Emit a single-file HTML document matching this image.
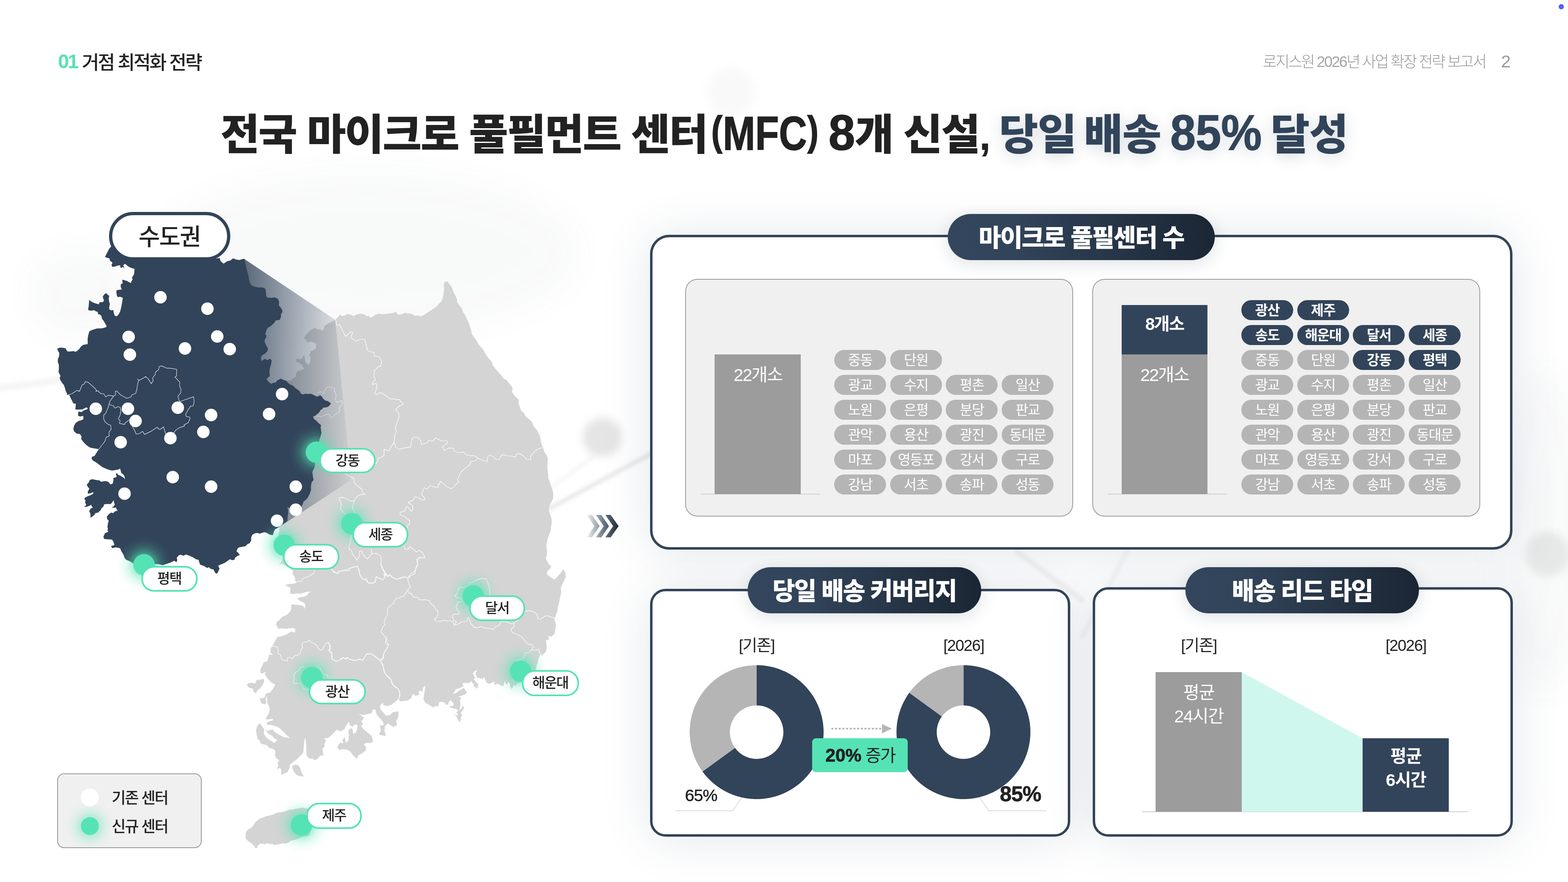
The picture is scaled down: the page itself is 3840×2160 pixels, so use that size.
<!DOCTYPE html>
<html lang="ko">
<head>
<meta charset="utf-8">
<title>거점 최적화 전략</title>
<style>
*{box-sizing:border-box;margin:0;padding:0}
html,body{width:3840px;height:2160px;overflow:hidden;background:#fff}
body{font-family:"Liberation Sans","Noto Sans CJK KR",sans-serif;color:#222;position:relative}
.abs{position:absolute}
.t{position:absolute;white-space:nowrap;line-height:1}
.c{transform:translate(-50%,-50%)}
#bg{position:absolute;left:0;top:0;width:3840px;height:2160px}
#hl{left:142px;top:128px;font-size:46px;font-weight:500;letter-spacing:-3.3px;color:#222}
#hl b{color:#55E3B5;font-weight:700;margin-right:11px;letter-spacing:-3.5px;font-size:49px;position:relative;top:-2px}
#hr{right:202px;top:133px;font-size:37.5px;font-weight:300;color:#9a9a9a;letter-spacing:-3.3px}
#hp{left:3676px;top:129px;font-size:43px;font-weight:300;color:#9a9a9a}
#dot{left:3817px;top:10px;width:13px;height:13px;border-radius:50%;background:#5560f0}
#title{left:540px;top:279px;font-size:104px;font-weight:900;color:#222;letter-spacing:-2.9px;transform-origin:0 0}
#title i{font-style:normal;display:inline-block;letter-spacing:0;line-height:0;height:0}
#title i b{display:inline-block;transform-origin:0 100%;font-weight:700;-webkit-text-stroke:1.6px currentColor;white-space:nowrap;line-height:0}
#title u{text-decoration:none;font-size:.87em;position:relative;top:-.12em;margin:0 .01em}
#title span{letter-spacing:-1.2px;word-spacing:-9px;margin-left:-3px;color:#32445A;text-shadow:0 8px 36px rgba(50,68,90,.2)}
.panel{position:absolute;border:6px solid #32445A;border-radius:38px;background:#fff;box-shadow:0 4px 120px rgba(40,60,90,.13)}
.ptitle{position:absolute;height:113px;border-radius:57px;background:linear-gradient(90deg,#33465d 0%,#32445A 25%,#1b2634 100%);color:#fff;font-weight:900;font-size:60px;text-align:center;line-height:119px;letter-spacing:-2.5px;white-space:nowrap;box-shadow:0 8px 40px rgba(40,60,90,.16)}
.inner{position:absolute;border:2px solid #9c9c9c;border-radius:30px;background:#f0f0f0}
.chip{position:absolute;width:127px;height:49px;border-radius:25px;background:#b5b5b5;color:#fff;font-size:34px;font-weight:400;text-align:center;line-height:51px;letter-spacing:-1.6px;white-space:nowrap}
.chip.d{background:#32445A;font-weight:700}
.bar{position:absolute;color:#fff;text-align:center;white-space:nowrap}
.base{position:absolute;height:2px;background:#cfcfcf}
.lab{font-size:39px;font-weight:400;letter-spacing:-1.5px;color:#222}
.pill{position:absolute;height:61px;border:4px solid #55E3B5;border-radius:31px;background:#fff;font-size:34px;font-weight:500;text-align:center;line-height:54px;letter-spacing:-2px;color:#222;white-space:nowrap}
.gd{position:absolute;width:52px;height:52px;border-radius:50%;background:#55E3B5;box-shadow:0 0 40px 14px rgba(85,227,181,.45)}
.wd{position:absolute;width:30px;height:30px;border-radius:50%;background:#fff;margin:-15px 0 0 -15px}
</style>
</head>
<body>
<svg id="bg" viewBox="0 0 3840 2160" width="3840" height="2160">
<defs><filter id="b1" x="-50%" y="-50%" width="200%" height="200%"><feGaussianBlur stdDeviation="10"/></filter><filter id="b2" x="-50%" y="-50%" width="200%" height="200%"><feGaussianBlur stdDeviation="4"/></filter><filter id="b3" x="-50%" y="-50%" width="200%" height="200%"><feGaussianBlur stdDeviation="40"/></filter></defs>
<g filter="url(#b3)" fill="#5a6a7a" opacity=".035">
<ellipse cx="900" cy="620" rx="520" ry="200"/><ellipse cx="3780" cy="1300" rx="120" ry="400"/><ellipse cx="200" cy="720" rx="130" ry="110"/>
</g>
<g filter="url(#b1)" fill="#000">
<circle cx="1475" cy="1071" r="48" opacity=".1"/>
<circle cx="3790" cy="1357" r="55" opacity=".07"/>
<circle cx="1790" cy="225" r="60" opacity=".025"/>
</g>
<g filter="url(#b2)" stroke="#000" fill="none" stroke-linecap="round">
<path d="M1346,1245 L1600,1108" stroke-width="11" opacity=".085"/>
<path d="M1352,1192 L1452,1120" stroke-width="9" opacity=".035"/>
<path d="M0,950 L190,926" stroke-width="16" opacity=".04"/>
<path d="M2490,1350 L2650,1470" stroke-width="12" opacity=".05"/>
<path d="M2760,1350 L2650,1560" stroke-width="10" opacity=".04"/>
</g>
</svg>

<div class="t" id="hl"><b>01</b>거점 최적화 전략</div>
<div class="t" id="hr">로지스원 <span style="color:#a6a6a6;letter-spacing:-2.6px">2026</span>년 사업 확장 전략 보고서</div>
<div class="t" id="hp">2</div>
<div class="abs" id="dot"></div>
<div class="t" id="title">전국 마이크로 풀필먼트 센터<i id="mfc" style="width:262px;margin-left:10px"><b style="transform:scaleX(.82);font-size:116px"><u>(</u>MFC<u>)</u></b></i> <i id="n8" style="width:64px"><b style="transform:scaleX(.96);font-size:122px">8</b></i>개 신설, <span>당일 배송 <i id="n85" style="width:227px;margin-left:4px"><b style="transform:scaleX(.918);font-size:122px">85%</b></i> 달성</span></div>

<svg class="abs" style="left:0;top:0" width="1560" height="2160" viewBox="0 0 1560 2160">
<defs>
<linearGradient id="cone" gradientUnits="userSpaceOnUse" x1="598" y1="0" x2="862" y2="0"><stop offset="0" stop-color="#32445A" stop-opacity=".8"/><stop offset=".5" stop-color="#32445A" stop-opacity=".42"/><stop offset="1" stop-color="#32445A" stop-opacity=".04"/></linearGradient>
<radialGradient id="glow"><stop offset="0" stop-color="#55E3B5" stop-opacity=".6"/><stop offset=".4" stop-color="#55E3B5" stop-opacity=".5"/><stop offset=".62" stop-color="#55E3B5" stop-opacity=".2"/><stop offset=".82" stop-color="#55E3B5" stop-opacity=".06"/><stop offset="1" stop-color="#55E3B5" stop-opacity="0"/></radialGradient>
</defs>
<g fill="#d4d4d4"><path d="M821.9,782.2 829.8,774.3 831.8,769.8 837.3,773.8 843.5,773.0 850.9,768.8 859.6,771.3 866.6,774.3 872.0,770.6 883.2,768.1 890.7,769.3 898.1,774.3 902.4,773.0 905.6,777.3 911.8,776.8 919.3,770.6 928.0,768.1 934.2,769.3 942.9,769.3 951.6,768.1 961.5,766.8 970.2,763.9 973.9,770.6 983.9,769.8 991.3,766.3 1001.2,767.3 1011.2,769.8 1014.9,773.0 1023.6,773.0 1032.3,774.3 1038.5,771.3 1048.4,764.3 1058.4,758.1 1067.1,751.9 1074.5,744.5 1080.7,738.3 1084.5,729.6 1086.2,719.6 1087.7,707.2 1087.0,694.8 1089.4,690.3 1095.7,689.3 1100.6,696.0 1106.8,703.5 1109.3,712.2 1115.5,724.6 1119.3,733.3 1119.3,739.5 1124.2,747.0 1130.4,754.4 1134.2,764.3 1139.1,771.8 1144.1,783.0 1149.1,792.9 1151.6,801.6 1154.0,810.3 1155.3,817.8 1161.5,826.5 1167.7,835.2 1171.4,842.6 1177.6,850.1 1182.6,855.0 1187.6,863.7 1193.8,873.7 1200.0,881.1 1205.0,887.3 1206.2,893.5 1213.7,903.5 1222.4,913.4 1231.1,923.4 1233.5,927.8 1241.0,930.8 1247.2,939.5 1254.7,948.2 1255.2,954.4 1253.4,959.4 1259.6,968.1 1269.6,978.0 1270.8,983.0 1269.6,988.0 1273.3,996.6 1275.8,1005.3 1283.2,1011.6 1287.5,1020.0 1296.9,1027.5 1303.1,1033.7 1306.8,1043.6 1314.3,1052.3 1318.0,1059.8 1323.0,1068.4 1324.2,1079.6 1326.7,1089.6 1330.4,1097.0 1332.9,1107.0 1339.1,1115.7 1341.6,1121.9 1341.1,1134.3 1340.4,1144.2 1342.1,1159.1 1342.9,1171.6 1346.6,1181.5 1350.3,1191.4 1353.5,1201.4 1355.3,1211.3 1354.0,1222.5 1349.1,1231.2 1345.3,1239.9 1344.1,1251.1 1346.6,1258.5 1350.3,1268.4 1351.6,1278.4 1349.6,1288.3 1349.1,1298.3 1345.3,1308.2 1341.6,1318.1 1339.1,1328.1 1337.9,1338.0 1339.6,1348.0 1339.1,1360.4 1336.6,1367.8 1340.4,1375.3 1342.9,1380.0 1350.3,1387.5 1346.6,1393.7 1340.4,1398.6 1338.6,1404.8 1342.9,1409.8 1350.3,1414.8 1357.8,1419.3 1365.2,1412.3 1372.7,1403.6 1380.1,1393.7 1383.9,1402.4 1385.8,1412.3 1381.4,1422.2 1376.4,1432.2 1373.4,1439.6 1374.4,1452.0 1371.4,1464.5 1368.9,1476.9 1366.5,1486.8 1364.0,1499.3 1360.2,1509.2 1357.8,1516.6 1361.0,1529.1 1360.2,1541.5 1357.8,1552.7 1350.3,1558.9 1341.6,1557.6 1345.3,1563.9 1340.4,1568.8 1336.6,1566.3 1337.9,1576.3 1339.1,1586.2 1336.6,1596.1 1331.7,1601.1 1326.7,1606.1 1323.0,1603.6 1319.3,1612.3 1316.8,1622.2 1314.3,1630.9 1313.9,1632.6 1311.6,1640.4 1292.9,1662.1 1268.1,1673.0 1263.4,1677.6 1261.9,1682.3 1259.5,1676.1 1255.7,1683.9 1251.8,1687.0 1249.4,1680.7 1248.7,1674.5 1244.0,1669.1 1242.5,1674.5 1239.3,1676.1 1236.2,1666.8 1234.7,1673.0 1232.4,1680.7 1224.6,1677.6 1219.9,1674.5 1213.7,1676.1 1209.8,1677.6 1211.4,1671.4 1208.3,1669.1 1204.4,1672.2 1198.2,1674.5 1192.0,1672.2 1188.9,1666.8 1186.6,1659.8 1183.4,1659.0 1182.7,1663.7 1178.0,1662.1 1172.6,1659.8 1168.7,1660.6 1167.1,1655.9 1164.8,1651.2 1165.6,1645.8 1170.2,1641.6 1165.6,1641.9 1160.9,1645.0 1158.1,1649.7 1160.9,1655.1 1164.0,1660.6 1160.2,1663.7 1163.3,1666.8 1166.4,1671.4 1171.8,1676.1 1168.7,1680.7 1174.1,1681.5 1167.1,1684.6 1161.7,1686.2 1165.6,1682.3 1159.4,1680.7 1160.9,1676.1 1156.3,1671.4 1153.2,1666.8 1150.8,1672.2 1143.9,1673.0 1137.6,1672.2 1131.4,1674.5 1136.1,1679.2 1128.3,1683.9 1122.1,1686.2 1115.9,1688.5 1112.8,1694.7 1109.7,1699.4 1117.5,1697.0 1123.7,1691.6 1129.9,1688.5 1136.1,1684.6 1139.2,1690.1 1143.9,1697.0 1137.6,1700.9 1129.9,1704.0 1122.1,1707.1 1129.9,1708.7 1126.8,1714.9 1127.5,1724.2 1126.8,1733.5 1125.2,1739.8 1131.4,1733.5 1133.0,1727.3 1136.9,1733.5 1133.0,1739.8 1128.3,1746.0 1131.4,1750.6 1128.3,1759.9 1126.8,1767.7 1123.7,1766.9 1119.0,1756.8 1114.3,1750.6 1108.1,1748.3 1112.8,1749.1 1119.0,1752.2 1122.1,1749.1 1117.5,1745.2 1122.1,1739.8 1117.5,1736.6 1111.2,1735.1 1105.0,1733.5 1100.4,1731.2 1103.5,1728.9 1110.5,1728.9 1111.2,1722.7 1106.6,1718.0 1103.5,1714.1 1098.8,1719.6 1098.0,1724.2 1092.6,1727.3 1089.5,1721.1 1083.3,1718.8 1075.5,1719.6 1074.0,1725.8 1074.8,1730.4 1067.8,1728.9 1063.1,1730.4 1060.0,1733.5 1059.5,1731.4 1052.0,1726.5 1042.1,1721.5 1037.1,1712.8 1038.4,1701.6 1042.1,1679.3 1035.9,1684.2 1034.7,1694.2 1028.4,1690.4 1024.7,1695.4 1027.2,1701.6 1017.3,1704.1 1011.1,1699.1 1007.3,1709.1 999.9,1715.3 989.9,1716.5 980.0,1717.8 976.3,1711.6 967.6,1719.0 957.6,1726.5 947.7,1728.9 939.0,1726.5 937.8,1720.2 930.3,1728.9 932.8,1738.9 940.2,1746.3 945.2,1752.5 955.2,1751.3 962.6,1743.9 976.3,1742.6 975.0,1756.3 970.1,1766.2 972.5,1776.1 963.9,1779.9 956.4,1776.1 950.2,1771.2 942.7,1778.6 941.5,1788.6 945.2,1802.2 935.3,1801.0 927.8,1798.5 932.8,1788.6 930.3,1776.1 940.2,1776.1 937.8,1767.5 930.3,1758.8 922.9,1751.3 919.1,1737.6 912.9,1737.6 910.4,1746.3 900.5,1748.8 890.6,1751.3 878.1,1748.8 890.6,1756.3 888.1,1763.7 884.3,1766.2 889.3,1772.4 884.3,1778.6 890.6,1786.1 898.0,1792.3 905.5,1798.5 910.4,1802.2 911.7,1808.4 914.2,1814.7 908.0,1819.6 895.5,1819.6 890.6,1823.4 896.8,1829.6 895.5,1838.3 885.6,1845.7 878.1,1849.4 874.4,1858.1 869.4,1854.4 863.2,1848.2 858.3,1840.7 849.6,1835.8 839.6,1834.5 830.9,1837.0 826.0,1829.6 829.7,1823.4 833.4,1818.4 840.9,1820.9 838.4,1813.4 843.4,1804.7 845.8,1810.9 847.1,1819.6 853.3,1813.4 854.5,1798.5 853.3,1788.6 858.3,1783.6 863.2,1784.8 864.5,1796.0 870.7,1796.0 874.4,1786.1 875.7,1776.1 869.4,1773.7 863.2,1779.9 857.0,1776.1 854.5,1767.5 848.3,1776.1 843.4,1786.1 833.4,1791.1 824.7,1787.3 818.5,1793.5 811.1,1801.0 803.6,1807.2 793.7,1808.4 798.6,1813.4 793.7,1823.4 796.1,1827.1 789.9,1833.3 791.2,1843.2 792.4,1849.4 783.7,1850.7 778.8,1856.9 771.3,1861.9 765.1,1856.9 757.6,1858.1 751.4,1850.7 750.2,1840.7 750.2,1828.3 748.9,1815.9 747.7,1806.0 745.2,1813.4 744.0,1828.3 742.7,1843.2 737.8,1848.2 729.1,1858.1 719.1,1865.6 710.4,1871.8 709.2,1880.5 704.2,1890.4 696.8,1894.2 688.1,1897.9 689.3,1888.0 686.8,1880.5 678.1,1883.0 681.9,1875.5 679.4,1869.3 684.3,1861.9 678.1,1858.1 673.2,1850.7 674.4,1838.3 667.0,1833.3 659.5,1832.0 654.5,1825.8 648.3,1823.4 638.4,1820.9 635.9,1813.4 630.9,1809.7 628.4,1798.5 627.2,1789.8 629.7,1778.6 635.9,1770.7 642.1,1778.6 647.1,1786.1 645.8,1796.0 652.0,1806.0 662.0,1813.4 671.9,1819.6 679.4,1812.2 671.9,1808.4 665.7,1801.0 659.5,1798.5 649.6,1788.6 657.0,1789.8 667.0,1786.1 671.9,1792.3 681.9,1798.5 696.8,1806.0 710.4,1807.2 701.7,1799.8 694.3,1792.3 686.8,1784.8 679.4,1779.9 667.0,1776.1 654.5,1774.9 653.3,1768.7 669.4,1763.7 667.0,1760.0 654.5,1762.5 650.8,1758.8 657.0,1750.1 660.7,1738.9 659.5,1731.4 654.5,1721.5 654.5,1711.6 652.0,1702.9 650.8,1711.6 652.0,1721.5 647.1,1725.2 639.6,1721.5 635.9,1710.3 647.1,1709.1 650.8,1699.1 662.0,1695.4 667.0,1689.2 674.4,1676.8 667.0,1673.0 659.5,1666.8 654.5,1660.6 648.3,1650.7 652.0,1644.5 644.6,1648.2 638.4,1649.4 637.6,1639.5 640.9,1633.3 645.8,1622.1 654.5,1619.6 659.5,1602.2 669.4,1604.7 662.0,1597.3 663.2,1587.3 667.0,1582.4 671.9,1572.4 679.4,1560.0 689.9,1558.3 699.3,1554.6 706.7,1550.9 713.2,1546.2 717.9,1548.1 722.5,1549.0 723.5,1541.6 718.8,1537.8 710.4,1538.8 701.1,1539.7 689.9,1538.8 682.5,1539.7 678.8,1534.1 676.0,1529.4 677.8,1522.9 684.3,1518.3 689.9,1511.7 697.4,1508.0 704.8,1504.3 710.4,1497.8 713.8,1491.2 713.2,1483.8 715.1,1480.1 725.3,1481.0 734.7,1481.9 742.1,1483.8 746.8,1491.2 747.7,1480.1 744.0,1476.3 738.4,1473.5 730.9,1468.9 728.1,1465.2 734.7,1462.4 744.0,1461.4 751.4,1458.6 754.2,1454.0 760.7,1448.8 751.4,1449.3 744.0,1452.1 734.7,1454.0 725.3,1453.0 719.8,1454.9 711.4,1454.0 710.4,1446.5 711.4,1439.1 704.8,1436.3 698.3,1432.5 708.6,1430.1 717.9,1429.4 727.2,1427.0 722.5,1421.4 722.5,1414.8 718.8,1409.3 716.0,1401.8 717.9,1398.1 714.2,1394.3 708.6,1390.6 701.1,1386.9 695.5,1382.2 690.9,1379.4 686.2,1381.3 684.3,1383.2 685.3,1379.4 689.9,1376.6 691.8,1370.1 692.7,1364.5 684.3,1327.3 681.6,1310.5 684.3,1301.2 683.4,1292.8 690.0,1250.0 700.0,1000.0 702.7,932.5 712.9,931.6 718.5,926.0 724.1,923.2 725.0,913.9 729.7,908.3 737.1,906.4 744.6,903.6 739.0,893.4 731.6,887.8 725.0,885.9 726.0,877.5 735.3,880.3 740.9,876.6 743.7,870.1 746.5,874.7 747.4,885.9 751.1,889.6 755.8,893.4 759.5,885.9 761.4,874.7 756.7,870.1 759.5,866.3 761.4,859.8 767.9,858.0 773.5,852.4 774.4,842.1 763.2,836.5 752.0,838.4 748.3,830.0 742.7,830.0 750.2,819.0 759.5,809.7 770.7,802.2 778.1,806.9 785.6,806.0 787.5,810.6 793.0,806.0 794.9,798.5 802.4,792.9 811.7,788.3 822.9,782.7Z"/><path d="M606.1,1674.3 614.8,1671.8 624.7,1674.3 628.4,1665.6 638.4,1664.3 645.8,1661.9 647.1,1669.3 642.1,1679.3 635.9,1686.7 629.7,1691.7 627.2,1697.9 621.0,1694.2 619.8,1686.7 609.8,1684.2 604.8,1678.0Z"/><path d="M715.4,1876.8 721.6,1872.5 729.1,1873.5 735.3,1880.5 737.8,1890.4 744.0,1901.6 734.0,1900.4 726.6,1897.9 720.4,1890.4 716.6,1883.0Z"/><path d="M601.9,2038.7 606.6,2032.5 614.3,2027.8 619.8,2022.4 623.7,2017.0 625.2,2012.3 629.9,2010.0 636.1,2004.5 643.9,2002.2 651.6,1999.1 660.9,1996.8 668.7,1995.2 676.5,1990.6 684.2,1989.8 693.5,1988.2 701.3,1985.9 710.6,1982.0 716.8,1982.8 724.6,1980.5 730.8,1979.4 740.1,1978.1 749.4,1979.4 755.7,1980.5 761.9,1992.1 763.4,2023.2 760.3,2035.6 757.2,2044.9 752.5,2048.0 743.2,2049.3 737.0,2051.1 727.7,2055.0 719.9,2057.3 712.2,2058.9 706.0,2063.5 699.8,2065.9 692.0,2065.1 684.2,2067.4 678.0,2068.2 671.8,2069.8 667.1,2066.6 660.9,2067.4 656.3,2065.1 648.5,2067.4 640.7,2065.9 634.5,2067.4 631.4,2071.3 629.9,2076.0 625.2,2077.2 622.1,2071.3 617.5,2066.6 612.8,2063.5 606.6,2058.9 602.7,2054.2 601.1,2051.1 602.2,2044.9Z"/></g>
<g fill="none" stroke="#fff" stroke-width="1.4" stroke-linejoin="round" opacity=".95">
<path d="M822.4,783.0 823.6,796.6 832.3,795.4 836.0,802.9 838.5,810.3 847.2,824.0 858.4,812.8 864.1,814.0 860.1,824.0 862.1,830.2 867.1,831.4 871.6,836.4 880.7,830.9 893.2,830.9 896.9,846.3 900.6,858.8 909.3,861.7 915.5,863.2 917.3,872.4 928.0,873.2 931.7,878.6 934.7,887.3 931.7,897.3 925.5,898.5 917.3,907.2 915.5,920.9 919.3,929.6 911.8,937.0 911.8,942.0 920.5,938.8 923.0,942.0 921.2,955.7 918.0,961.9 921.7,966.8 931.7,960.6 939.1,965.1 955.3,976.8 964.0,976.8 973.9,979.3 978.4,978.0 981.4,984.2 987.6,988.0 985.1,991.7 977.6,994.2 968.9,1002.9 976.4,1011.6 977.6,1020.0"/>
<path d="M977.6,1020.0 971.4,1037.4 968.4,1044.8 970.2,1057.3 966.5,1067.2 965.2,1083.4 959.0,1092.0 952.8,1104.5 940.4,1100.0 940.4,1115.7 934.2,1119.4 926.7,1123.1 924.2,1130.6 919.3,1136.8"/>
<path d="M965.2,1083.4 968.9,1094.5 976.4,1100.7 988.8,1097.5 1006.2,1094.5 1007.5,1078.4 1011.2,1072.2 1018.6,1069.7 1026.1,1073.4 1031.1,1080.9 1032.3,1088.3 1046.0,1084.6 1050.9,1077.6 1059.6,1080.9 1067.1,1072.2 1073.3,1075.9 1080.7,1079.6 1094.4,1079.6 1095.7,1084.6 1083.2,1094.5 1088.2,1103.2 1098.1,1097.5 1109.3,1097.5 1114.3,1105.7 1123.0,1108.9 1135.4,1107.0 1140.4,1113.2 1150.3,1115.7 1162.7,1116.4 1170.2,1121.9 1182.6,1127.3 1192.5,1130.6 1193.8,1120.6 1198.8,1114.4 1207.5,1118.1 1213.7,1124.3 1222.4,1125.6 1228.6,1114.4 1234.8,1113.2 1239.8,1116.4 1252.2,1116.9 1262.1,1119.4 1264.6,1111.9 1272.0,1110.7 1282.0,1116.9 1290.7,1125.6 1300.6,1125.6 1299.4,1116.9 1309.3,1105.7 1319.3,1098.3 1329.2,1096.5"/>
<path d="M1170.2,1121.9 1165.2,1128.1 1152.8,1130.6 1151.6,1136.8 1142.9,1144.2 1129.2,1155.4 1123.0,1169.1 1120.5,1175.3 1124.2,1179.0 1106.1,1196.9 1095.7,1192.7 1078.3,1178.5 1076.3,1186.0 1072.8,1185.2 1073.3,1193.4 1063.4,1192.7 1054.7,1189.4 1044.7,1197.6 1038.5,1193.9 1032.3,1211.3 1040.5,1220.0 1039.8,1224.2 1032.3,1223.7 1024.8,1218.8 1016.1,1216.3 1011.2,1225.0 998.8,1231.2 1009.9,1237.4 1011.2,1246.1 1007.5,1252.3 1003.7,1248.6 997.5,1239.9 993.8,1244.8 991.3,1252.3 983.9,1253.0 978.9,1257.3 982.6,1262.2 991.3,1264.7 997.5,1270.9 1003.7,1275.9 1002.5,1283.4 997.5,1287.1 998.8,1293.3"/>
<path d="M1038.5,1366.6 1031.1,1365.3 1023.6,1370.3 1020.6,1376.5 1023.6,1380.0"/>
<path d="M844.7,1160.4 859.6,1167.8 865.8,1171.6 867.1,1181.5 874.5,1188.9 885.7,1197.6 888.2,1206.3 893.2,1210.8 882.0,1211.3 873.3,1216.3 867.1,1226.2 858.4,1227.5 849.7,1222.5 839.8,1217.5 832.3,1218.8 829.8,1223.7 834.8,1229.9 836.0,1237.4 833.5,1244.8 839.8,1253.5 847.2,1259.8"/>
<path d="M867.1,1226.2 865.8,1236.1 862.1,1241.1 867.1,1251.1 868.3,1258.5"/>
<path d="M811.2,1394.9 824.8,1403.6 832.3,1398.6 844.7,1397.4 853.4,1393.7 864.6,1388.7 874.5,1387.0 879.5,1394.9 880.7,1407.3 887.0,1417.3 894.4,1419.8 901.9,1427.2 911.8,1427.7 919.3,1426.0 920.5,1413.5 926.7,1414.8 937.9,1419.8 942.9,1413.5 940.4,1404.8 946.6,1407.3 950.3,1412.3 955.3,1407.3 959.0,1413.5 971.4,1418.5 981.4,1414.8 991.3,1412.3 998.8,1416.0 1006.2,1404.8 1016.1,1398.6 1018.6,1389.9 1023.6,1380.0"/>
<path d="M931.7,1380.0 935.4,1389.9 941.6,1402.4 950.3,1412.3"/>
<path d="M998.8,1416.0 1000.0,1426.0 1005.0,1437.1 998.8,1444.6 1001.2,1452.0 1008.7,1454.5 1011.2,1462.0 1022.4,1463.2 1028.6,1469.4 1039.8,1468.2 1050.9,1470.7 1055.9,1479.4 1063.4,1484.3 1067.1,1491.8 1072.0,1496.8 1072.8,1504.2 1069.6,1511.7 1063.4,1516.1 1069.6,1521.6 1078.3,1522.1 1085.7,1519.1 1093.2,1520.4 1104.3,1520.4 1110.6,1524.1 1112.5,1531.1 1120.5,1529.1 1130.4,1522.9 1142.9,1521.6 1146.6,1511.7 1150.3,1519.1 1152.8,1526.6 1160.2,1535.3 1170.2,1537.8 1177.6,1534.0 1187.6,1537.8 1197.5,1539.0 1207.5,1541.5 1212.4,1535.3 1222.4,1531.6 1227.3,1521.6 1242.2,1522.9 1250.9,1527.8 1258.4,1526.6 1259.6,1534.0 1250.9,1541.5 1255.9,1550.2 1267.1,1553.9 1277.0,1558.9 1287.0,1571.3 1294.4,1577.5 1303.1,1578.8 1306.8,1583.7 1301.9,1591.2 1311.8,1592.4 1319.3,1589.9 1321.7,1598.6 1325.5,1604.8"/>
<path d="M1198.8,1457.0 1200.0,1447.1 1197.5,1437.1 1195.0,1427.2 1190.1,1417.3 1180.1,1416.8 1167.7,1419.8 1157.8,1426.0 1150.3,1427.2 1146.6,1433.4 1135.4,1439.6 1130.4,1437.6 1123.0,1440.9 1119.3,1452.0 1114.3,1459.5 1118.0,1463.2 1128.0,1464.5 1132.9,1473.2 1120.5,1475.7 1116.8,1486.8 1120.5,1494.3 1125.5,1499.3 1123.0,1504.2 1110.6,1504.2 1108.1,1509.2 1110.6,1519.1 1118.0,1522.9 1112.5,1531.1"/>
<path d="M1258.4,1526.6 1272.0,1515.4 1284.5,1496.8 1296.9,1495.5 1309.3,1499.3 1315.5,1505.5 1316.8,1514.2 1323.0,1516.6 1334.2,1509.2 1341.6,1508.0 1357.8,1514.2"/>
<path d="M1301.9,1591.2 1294.4,1598.6 1287.0,1598.6 1282.0,1611.1 1272.0,1616.0 1264.6,1618.5"/>
<path d="M998.8,1444.6 993.8,1452.0 988.8,1459.5 978.9,1463.2 968.9,1467.0 964.0,1476.9 955.3,1484.3 949.1,1489.3 949.1,1504.2 944.1,1514.2 940.4,1522.9 942.9,1530.3 937.9,1534.0 935.4,1541.5 932.9,1547.7 939.1,1553.9 944.1,1561.4 947.8,1566.3 944.1,1571.3 945.3,1577.5 951.6,1578.8 949.1,1586.2 941.6,1596.1 937.9,1606.1 940.4,1611.1 934.2,1616.0 931.7,1618.5"/>
<path d="M800.0,1573.8 806.2,1576.3 809.9,1583.7 805.0,1592.4 812.4,1598.6 813.7,1608.6 812.4,1613.5 823.6,1619.8 832.3,1616.0 839.8,1609.8 846.0,1613.5 849.7,1609.8 857.1,1614.8 872.0,1618.0 879.5,1613.5 888.2,1617.3 898.1,1601.1 906.8,1600.6 914.3,1604.8 921.7,1611.1 931.7,1618.5"/>
<path d="M931.7,1618.5 937.9,1630.9 941.6,1643.4 944.1,1652.0 952.8,1658.3 957.8,1665.7 959.0,1673.2 966.5,1681.9 975.2,1686.8 978.9,1698.0 977.6,1708.0 975.2,1712.9"/>
<path d="M667.0,1582.4 679.4,1584.8 681.9,1594.8 680.6,1599.8 686.8,1603.5 690.6,1615.9 696.8,1617.1 703.7,1619.6 703.0,1612.2 709.2,1609.7 715.4,1613.4 721.6,1606.0 729.1,1604.7 735.3,1599.8 736.5,1592.3 741.5,1584.8 739.0,1577.4 744.0,1572.4 753.9,1571.2 757.6,1567.5 762.6,1572.4 771.3,1577.4 776.3,1581.1 778.8,1587.3 786.2,1592.3 791.2,1589.8 792.4,1583.6 798.6,1574.9 804.8,1573.7 807.3,1583.6 809.8,1589.8 804.8,1592.3 812.3,1601.0 812.3,1612.2 822.2,1619.6 833.4,1615.9 840.9,1610.9 847.1,1614.7 850.8,1609.7 858.3,1615.9 870.7,1618.4 878.1,1614.7 889.3,1615.9 898.0,1602.2 908.0,1601.0 915.4,1604.7 930.3,1617.1 939.0,1609.7 940.2,1599.8 947.7,1587.3 952.2,1578.6 945.2,1569.9 945.2,1560.0"/>
<path d="M930.3,1617.1 937.8,1627.1 940.2,1644.5 947.7,1655.7 957.6,1664.3 962.6,1676.8 975.0,1686.7 978.8,1695.4 979.5,1704.1 976.3,1711.6"/>
<path d="M758.9,1688.0 751.4,1689.2 742.7,1686.7 741.5,1679.3 734.0,1673.0 721.6,1674.3 717.9,1669.3 720.4,1661.9 719.1,1654.4 724.1,1645.7 731.6,1643.2 735.3,1634.5 744.0,1632.0"/>
<path d="M776.3,1632.0 783.7,1635.8 791.2,1650.7 801.1,1652.4 803.6,1659.4"/>
<path d="M770.1,1395.3 769.1,1403.7 755.2,1412.0 742.1,1416.7 737.5,1423.2 727.2,1424.2"/>
<path d="M812.0,1393.4 817.6,1401.8 827.8,1404.6 829.7,1399.0 844.6,1396.2 855.8,1398.1 855.8,1391.6 867.0,1388.8 875.3,1386.9 878.1,1394.3 880.9,1405.5 885.6,1414.8 890.2,1419.5 896.8,1416.7 902.4,1427.9 913.5,1428.8 920.1,1420.4 921.0,1412.0 930.3,1416.7 937.8,1420.4 942.4,1413.0 939.6,1405.5 945.2,1409.3 949.9,1412.0 954.5,1406.5 960.1,1413.0 971.3,1418.6 980.6,1416.7 991.8,1412.0 998.3,1416.7 1006.7,1409.3 1016.0,1405.5 1017.9,1394.3 1023.5,1381.3 1019.8,1370.1 1027.2,1364.5 1034.7,1366.4 1041.2,1366.4 1034.7,1353.4 1027.2,1347.8 1019.8,1351.5 1010.4,1344.0 1003.0,1338.4 1001.1,1345.0 991.8,1345.0 989.9,1336.6"/>
<path d="M861.4,1310.5 857.6,1327.3 853.9,1342.2 861.4,1349.6 863.2,1357.1 874.4,1372.0 880.0,1362.7 880.9,1349.6 885.6,1348.7 889.3,1358.9 899.6,1369.2 909.8,1357.1 909.8,1344.0"/>
<path d="M909.8,1357.1 919.1,1354.3 926.6,1358.0 932.2,1361.7 934.0,1372.0 933.1,1383.2 939.6,1396.2 945.2,1403.7 949.9,1412.0"/>
<path d="M776.3,962.3 785.6,958.6 792.1,965.1 794.9,956.7 800.5,948.3 808.0,947.4 819.5,950.7 819.1,958.6 822.9,966.0 821.9,979.1 824.7,985.6 837.8,980.9 838.7,988.4 834.0,993.0 830.3,1000.5 833.1,1005.2 828.4,1010.7 821.0,1014.5 813.5,1022.9 808.9,1021.9 806.1,1014.5 800.5,1014.5 794.9,1017.3 785.6,1021.0 778.1,1018.2 775.3,1021.0"/>
</g>
<path d="M598,634 L821,783 L860,1175.5 L674,1297 Z" fill="url(#cone)"/>
<path d="M271.9,603.8 267.2,609.4 257.0,629.3 263.5,631.7 268.1,632.7 269.1,638.3 275.6,642.9 273.2,648.5 274.3,653.2 280.2,653.2 287.7,650.4 294.2,649.4 295.2,656.0 301.7,654.1 305.4,657.8 301.7,649.4 306.3,646.1 313.8,652.2 321.2,656.3 329.6,658.2 328.3,671.8 323.1,680.2 325.0,683.9 319.8,693.2 311.9,688.6 303.5,685.8 299.3,685.2 300.4,693.8 296.1,696.0 295.5,701.6 298.0,709.1 285.8,710.6 284.9,714.7 286.2,724.0 288.6,727.7 294.2,726.8 300.7,729.2 299.3,738.9 297.0,751.9 294.2,763.1 289.6,771.5 284.9,774.7 280.6,772.4 278.4,765.0 277.5,759.0 272.8,760.3 268.1,757.9 267.2,753.8 269.1,744.5 267.2,738.9 266.3,730.5 267.6,724.3 263.5,721.7 260.1,717.5 256.0,720.6 251.9,725.5 252.7,731.4 255.1,735.2 252.3,739.3 247.6,740.4 243.9,739.8 242.0,745.4 239.3,744.5 229.9,741.7 222.5,738.0 218.4,734.2 217.8,742.6 216.9,752.9 215.4,755.7 216.9,759.8 223.4,760.9 229.9,759.4 235.5,762.7 239.3,764.0 240.2,769.6 244.8,770.2 248.6,774.3 249.5,779.9 254.2,786.4 257.9,792.9 261.2,798.5 259.8,801.3 250.4,804.1 237.4,804.5 226.2,807.8 218.8,811.6 216.0,820.9 214.7,830.0 214.7,842.7 203.9,844.5 198.3,848.6 194.5,854.2 188.9,859.4 184.3,861.7 180.6,859.8 172.2,860.7 165.7,860.7 162.9,858.0 161.0,853.3 153.5,851.4 145.2,851.4 140.1,854.2 142.4,859.8 145.2,864.5 144.6,872.9 142.0,878.8 141.4,885.9 144.2,893.4 144.2,902.7 143.3,911.1 146.1,916.6 148.3,921.3 146.1,925.0 147.6,930.6 151.7,937.1 156.3,942.7 158.8,949.3 160.6,956.7 163.8,963.2 164.3,967.9 169.4,967.0 173.1,975.3 176.8,981.9 179.6,988.0 185.6,988.4 185.2,995.8 184.3,1002.4 190.8,1003.3 202.0,1002.4 211.3,997.7 215.0,999.6 213.2,1002.4 205.7,1004.8 199.8,1008.9 191.7,1008.0 191.2,1018.2 196.4,1020.1 203.9,1018.6 204.2,1026.6 198.3,1029.4 191.7,1031.2 185.2,1035.9 181.5,1042.4 179.6,1049.9 181.5,1056.4 188.0,1062.0 195.5,1062.9 198.3,1066.6 199.8,1070.4 198.6,1075.0 202.0,1079.7 207.6,1086.2 215.0,1092.7 222.5,1096.8 231.8,1098.3 242.0,1100.0 236.5,1108.4 231.4,1116.8 225.3,1118.6 224.3,1123.3 227.1,1127.6 235.5,1132.6 243.9,1138.8 250.4,1143.8 259.8,1148.1 269.1,1151.2 274.7,1152.5 282.1,1151.2 289.6,1149.9 294.2,1147.5 295.5,1152.2 296.6,1157.8 300.7,1161.1 304.5,1165.2 306.3,1173.6 301.7,1168.9 295.2,1165.2 288.6,1162.4 286.8,1158.7 283.6,1160.6 285.8,1168.0 278.0,1170.8 277.5,1178.3 276.1,1183.9 270.6,1186.6 265.3,1180.1 257.9,1177.9 250.4,1179.2 247.6,1180.1 243.9,1176.4 235.5,1175.5 226.2,1173.6 219.7,1175.5 217.8,1181.1 212.2,1187.2 216.0,1193.2 218.8,1196.9 215.0,1203.4 215.0,1209.0 221.6,1208.1 228.1,1205.3 229.0,1208.1 224.3,1211.8 216.9,1214.6 209.4,1217.8 206.1,1222.0 209.4,1224.8 208.5,1230.4 211.3,1237.0 205.7,1240.7 211.3,1241.2 218.8,1238.8 223.4,1236.0 224.3,1239.8 227.7,1243.1 222.1,1245.3 218.4,1251.9 221.6,1258.4 221.6,1267.7 225.3,1265.8 231.8,1260.2 233.7,1256.5 240.2,1255.6 246.7,1249.1 248.6,1244.4 253.2,1240.7 255.1,1235.1 261.6,1234.2 270.9,1234.5 274.7,1230.4 278.4,1224.8 279.3,1230.4 281.2,1236.0 277.5,1240.7 272.8,1243.5 284.0,1243.1 285.8,1248.1 288.6,1250.6 282.1,1251.9 276.5,1256.9 273.7,1255.0 267.2,1258.4 261.6,1264.9 262.5,1271.4 266.3,1275.2 264.4,1281.7 263.1,1290.1 264.4,1295.7 262.5,1299.0 265.7,1300.3 263.5,1303.1 257.0,1305.9 253.2,1314.3 255.1,1319.9 265.3,1320.8 274.7,1321.4 278.4,1328.3 280.2,1334.8 271.9,1337.6 274.7,1342.2 284.0,1340.4 294.2,1342.6 297.0,1349.7 301.7,1357.1 305.4,1366.5 308.4,1370.4 316.8,1374.1 326.1,1379.7 346.6,1384.3 380.1,1381.6 387.6,1381.6 398.8,1384.3 406.2,1381.6 417.4,1377.8 426.7,1373.2 432.3,1376.9 434.2,1371.3 432.7,1366.6 437.0,1361.1 441.6,1358.3 449.1,1361.1 455.6,1357.9 464.0,1361.1 472.4,1364.8 479.8,1369.4 486.3,1371.3 488.2,1377.8 490.1,1382.5 499.4,1386.2 507.8,1390.9 511.5,1389.0 516.1,1393.3 522.7,1394.6 525.5,1400.2 529.2,1405.2 532.9,1403.0 537.6,1392.7 534.4,1385.3 540.4,1382.5 549.7,1378.8 558.1,1373.2 562.7,1369.4 568.3,1371.7 573.9,1371.3 575.8,1366.1 581.4,1361.6 587.0,1359.8 583.2,1353.6 579.1,1349.9 581.4,1344.3 585.1,1340.6 592.5,1339.3 600.9,1337.8 605.6,1333.1 611.2,1330.3 614.9,1324.7 615.3,1315.4 618.6,1308.9 624.2,1306.1 630.7,1305.2 635.4,1307.0 641.0,1305.2 647.5,1303.3 654.0,1305.2 659.6,1308.9 668.0,1310.7 670.8,1302.4 673.6,1295.8 678.3,1292.1 673.8,1296.6 677.5,1293.9 685.0,1289.2 694.3,1282.7 703.6,1276.1 704.5,1265.0 705.8,1255.7 705.5,1246.3 702.7,1241.7 711.1,1244.5 727.8,1246.3 738.1,1240.7 740.9,1235.2 743.7,1227.7 749.3,1224.0 753.9,1218.4 758.6,1209.1 761.7,1199.8 761.4,1190.4 763.2,1181.1 767.9,1175.5 767.0,1171.8 766.0,1164.3 765.1,1156.0 767.0,1151.3 770.7,1143.9 771.6,1134.5 778.1,1106.6 781.9,1078.6 784.7,1069.3 787.5,1060.0 786.5,1055.5 785.2,1046.1 786.5,1041.5 780.0,1035.9 774.4,1030.3 768.4,1025.7 767.0,1019.7 771.6,1018.2 776.3,1014.5 781.9,1009.8 784.7,1004.2 788.4,1002.4 791.2,998.6 800.5,997.3 805.2,994.9 810.7,988.4 804.2,982.8 796.8,980.9 791.2,976.3 788.4,971.6 783.4,967.5 780.0,970.7 774.4,970.7 767.9,967.0 761.4,964.2 755.8,965.1 748.3,964.2 740.9,966.0 736.2,963.2 734.3,958.6 728.8,953.9 722.2,949.3 716.6,943.7 712.0,942.7 705.5,937.7 700.8,932.5 694.3,930.6 687.8,927.3 678.4,932.1 675.7,936.6 668.2,937.7 664.5,939.9 659.8,937.1 655.2,932.5 652.9,927.8 656.1,925.0 661.1,920.4 659.8,913.9 660.4,904.5 663.5,893.4 665.4,883.1 660.7,878.1 655.2,882.2 648.6,878.8 640.2,884.0 638.8,875.7 642.1,870.1 649.6,865.4 655.2,859.8 656.1,853.3 651.4,844.9 648.1,837.5 648.6,830.0 649.9,830.0 652.9,822.7 649.6,819.0 651.8,809.7 655.2,803.2 664.5,797.6 671.0,791.1 675.7,784.5 685.0,783.6 688.3,775.2 687.8,768.7 690.2,766.8 692.0,761.2 687.8,753.8 683.1,748.2 683.5,738.9 681.2,732.4 673.8,728.6 662.6,729.2 654.2,728.6 651.8,724.0 651.4,714.7 649.6,707.2 644.0,703.9 632.8,703.9 624.4,702.5 617.0,699.8 612.3,694.2 609.5,683.0 608.6,675.5 605.2,664.3 602.0,649.4 599.3,636.4 597.4,633.6 586.2,636.8 579.7,636.0 570.9,632.7 563.9,637.9 556.4,639.8 547.5,645.7 540.0,639.2 538.1,631.7 528.8,633.0 520.0,610.0 420.0,600.0 300.0,600.0Z" fill="#32445A"/>
<g fill="none" stroke="#fff" stroke-width="1.2" stroke-linejoin="round" opacity=".9">
<path d="M164.3,967.9 175.9,964.2 188.9,955.8 194.5,958.6 201.1,942.7 205.7,940.9 209.4,934.3 216.9,937.1 226.2,945.5 233.7,952.0 236.5,956.7 234.6,958.6 239.3,956.7 246.7,963.8 254.2,964.5 258.8,972.0 265.3,967.9 278.4,969.8 283.0,967.0 282.5,958.6 285.8,957.6 295.2,967.0 310.1,975.3 320.3,972.5 323.1,967.0 332.4,963.2 335.2,953.0 337.1,939.9 339.9,931.6 336.1,928.4 339.9,931.6 351.1,926.0 356.6,922.2 362.2,926.9 370.6,939.6 375.3,931.6 373.4,926.0 379.9,917.6 380.9,911.1 388.3,905.5 389.8,898.0 395.8,896.1 408.8,901.7 416.3,901.7 432.7,904.5 432.1,921.3 428.4,923.2 440.5,936.2 439.6,945.5 443.3,953.0 442.4,962.3 435.8,970.7 439.6,983.7 474.0,971.6 475.5,984.7 473.1,994.0 466.6,994.9 461.0,1003.3 454.5,1014.5 456.3,1020.1 463.8,1021.0 465.7,1024.7 461.0,1035.0 450.7,1040.6 451.7,1043.4 440.5,1047.1 431.2,1052.7 424.7,1061.1 417.2,1059.2 406.0,1062.9 400.4,1045.2 393.9,1050.8 388.3,1050.8 385.5,1046.1 369.7,1056.4 353.9,1063.9 349.2,1056.4 340.8,1062.0 333.4,1062.9 329.6,1053.6 325.0,1046.1 317.5,1027.5 306.3,1035.9 305.4,1039.6 292.4,1036.8 294.2,1030.3 289.6,1025.7 294.2,1016.3 296.1,1005.2 294.2,997.7 288.6,995.8 282.1,999.6 277.5,994.0 267.2,990.2 269.1,982.8 278.4,969.8"/>
<path d="M267.2,990.2 263.5,1001.4 257.9,1013.5 254.2,1016.3 253.8,1025.7 257.9,1034.0 265.3,1039.6 271.3,1041.5 271.9,1051.7 267.2,1058.3 267.2,1067.6 259.8,1071.3 257.0,1080.6 250.4,1089.0 242.0,1100.0"/>
</g>
<g fill="#fff"><circle cx="393" cy="728" r="15.3"/><circle cx="508" cy="756" r="15.3"/><circle cx="315" cy="825" r="15.3"/><circle cx="532" cy="824" r="15.3"/><circle cx="318" cy="868.5" r="15.3"/><circle cx="453" cy="853.4" r="15.3"/><circle cx="562.6" cy="855" r="15.3"/><circle cx="690.8" cy="965.1" r="15.3"/><circle cx="234.5" cy="1001" r="15.3"/><circle cx="313.3" cy="1001" r="15.3"/><circle cx="435.4" cy="998.5" r="15.3"/><circle cx="517" cy="1016.4" r="15.3"/><circle cx="659" cy="1014" r="15.3"/><circle cx="332" cy="1031" r="15.3"/><circle cx="498" cy="1057.8" r="15.3"/><circle cx="417.3" cy="1073" r="15.3"/><circle cx="295.5" cy="1083" r="15.3"/><circle cx="423" cy="1168.5" r="15.3"/><circle cx="517" cy="1191.8" r="15.3"/><circle cx="305" cy="1209" r="15.3"/><circle cx="724.3" cy="1191.8" r="15.3"/><circle cx="724.3" cy="1248.4" r="15.3"/><circle cx="678.4" cy="1275.3" r="15.3"/></g>
<circle cx="775" cy="1107.5" r="68" fill="url(#glow)"/>
<circle cx="352.6" cy="1383" r="68" fill="url(#glow)"/>
<circle cx="696" cy="1335" r="68" fill="url(#glow)"/>
<circle cx="861.6" cy="1282.6" r="68" fill="url(#glow)"/>
<circle cx="1159" cy="1459.6" r="68" fill="url(#glow)"/>
<circle cx="763.6" cy="1659.4" r="68" fill="url(#glow)"/>
<circle cx="1275" cy="1644" r="68" fill="url(#glow)"/>
<circle cx="738.6" cy="2020.4" r="68" fill="url(#glow)"/>
<circle cx="775" cy="1107.5" r="26.3" fill="#55E3B5"/>
<circle cx="352.6" cy="1383" r="26.3" fill="#55E3B5"/>
<circle cx="696" cy="1335" r="26.3" fill="#55E3B5"/>
<circle cx="861.6" cy="1282.6" r="26.3" fill="#55E3B5"/>
<circle cx="1159" cy="1459.6" r="26.3" fill="#55E3B5"/>
<circle cx="763.6" cy="1659.4" r="26.3" fill="#55E3B5"/>
<circle cx="1275" cy="1644" r="26.3" fill="#55E3B5"/>
<circle cx="738.6" cy="2020.4" r="26.3" fill="#55E3B5"/>
</svg>
<div class="pill" style="left:782.0px;top:1096.8px;width:137.7px;height:62.1px">강동</div>
<div class="pill" style="left:345.6px;top:1386.3px;width:138.1px;height:62.6px">평택</div>
<div class="pill" style="left:693.0px;top:1332.3px;width:137.7px;height:62.6px">송도</div>
<div class="pill" style="left:863.0px;top:1278.3px;width:137.2px;height:62.6px">세종</div>
<div class="pill" style="left:1149.0px;top:1457.8px;width:136.7px;height:63.1px">달서</div>
<div class="pill" style="left:756.0px;top:1662.8px;width:139.7px;height:62.1px">광산</div>
<div class="pill" style="left:1277.6px;top:1641.3px;width:140.1px;height:63.3px">해운대</div>
<div class="pill" style="left:749.7px;top:1966.3px;width:136.8px;height:63.6px">제주</div>
<div class="abs" style="left:267px;top:519px;width:297px;height:119px;border:8px solid #32445A;border-radius:60px;background:#fff"></div>
<div class="t c" style="left:415px;top:580px;font-size:57px;font-weight:500;letter-spacing:-2px;color:#222">수도권</div>
<div class="abs" style="left:140px;top:1894px;width:354px;height:183px;border:2px solid #999;border-radius:17px;background:#f0f0f0"></div>
<svg class="abs" style="left:141px;top:1895px" width="352" height="182" viewBox="141 1895 352 182"><circle cx="220" cy="2023" r="62" fill="url(#glow)" opacity=".7"/><circle cx="220" cy="1953" r="22" fill="#fff"/><circle cx="220" cy="2023" r="22" fill="#55E3B5"/></svg>
<div class="t" style="left:273.5px;top:1935.5px;font-size:37.5px;font-weight:500;letter-spacing:-2.2px;color:#222">기존 센터</div>
<div class="t" style="left:273.5px;top:2005.5px;font-size:37.5px;font-weight:500;letter-spacing:-2.2px;color:#222">신규 센터</div>


<!-- chevrons -->
<svg class="abs" style="left:1430px;top:1255px" width="95" height="68" viewBox="0 0 95 68">
<defs><linearGradient id="cg" gradientUnits="userSpaceOnUse" x1="6" x2="86" y1="0" y2="0"><stop offset="0" stop-color="#3a4a5d" stop-opacity="0.05"/><stop offset=".55" stop-color="#344559" stop-opacity=".75"/><stop offset="1" stop-color="#1b2634"/></linearGradient></defs>
<path d="M6.5,6 H19.5 L38.5,33.5 L19.5,61 H6.5 L25.5,33.5 Z M29.5,6 H42.5 L61.5,33.5 L42.5,61 H29.5 L48.5,33.5 Z M52.5,6 H65.5 L85,33.5 L65.5,61 H52.5 L71.5,33.5 Z" fill="url(#cg)"/>
</svg>

<!-- panel 1 -->
<div class="panel" style="left:1592px;top:575px;width:2112px;height:771px;border-radius:47px"></div>
<div class="ptitle" style="left:2321px;top:524px;width:654px">마이크로 풀필센터 수</div>
<div class="inner" style="left:1678px;top:683px;width:950px;height:582px"></div>
<div class="inner" style="left:2675px;top:683px;width:950px;height:582px"></div>
<div class="base" style="left:1716px;top:1209px;width:292px"></div>
<div class="bar" style="left:1750px;top:868px;width:211px;height:342px;background:#9c9c9c"></div>
<div class="t c" style="left:1856px;top:918px;font-size:43px;font-weight:400;color:#fff;letter-spacing:-2px">22개소</div>
<div class="chip" style="left:2043.0px;top:857.0px">중동</div>
<div class="chip" style="left:2179.7px;top:857.0px">단원</div>
<div class="chip" style="left:2043.0px;top:918.0px">광교</div>
<div class="chip" style="left:2179.7px;top:918.0px">수지</div>
<div class="chip" style="left:2316.4px;top:918.0px">평촌</div>
<div class="chip" style="left:2453.1px;top:918.0px">일산</div>
<div class="chip" style="left:2043.0px;top:978.9px">노원</div>
<div class="chip" style="left:2179.7px;top:978.9px">은평</div>
<div class="chip" style="left:2316.4px;top:978.9px">분당</div>
<div class="chip" style="left:2453.1px;top:978.9px">판교</div>
<div class="chip" style="left:2043.0px;top:1039.8px">관악</div>
<div class="chip" style="left:2179.7px;top:1039.8px">용산</div>
<div class="chip" style="left:2316.4px;top:1039.8px">광진</div>
<div class="chip" style="left:2453.1px;top:1039.8px">동대문</div>
<div class="chip" style="left:2043.0px;top:1100.8px">마포</div>
<div class="chip" style="left:2179.7px;top:1100.8px">영등포</div>
<div class="chip" style="left:2316.4px;top:1100.8px">강서</div>
<div class="chip" style="left:2453.1px;top:1100.8px">구로</div>
<div class="chip" style="left:2043.0px;top:1161.8px">강남</div>
<div class="chip" style="left:2179.7px;top:1161.8px">서초</div>
<div class="chip" style="left:2316.4px;top:1161.8px">송파</div>
<div class="chip" style="left:2453.1px;top:1161.8px">성동</div>
<div class="base" style="left:2713px;top:1209px;width:292px"></div>
<div class="bar" style="left:2747px;top:747px;width:210px;height:121px;background:#32445A"></div>
<div class="bar" style="left:2747px;top:868px;width:210px;height:342px;background:#9c9c9c"></div>
<div class="t c" style="left:2852px;top:794px;font-size:42px;font-weight:700;color:#fff;letter-spacing:-2px">8개소</div>
<div class="t c" style="left:2852px;top:918px;font-size:43px;font-weight:400;color:#fff;letter-spacing:-2px">22개소</div>
<div class="chip d" style="left:3040.0px;top:735.1px">광산</div>
<div class="chip d" style="left:3176.7px;top:735.1px">제주</div>
<div class="chip d" style="left:3040.0px;top:796.1px">송도</div>
<div class="chip d" style="left:3176.7px;top:796.1px">해운대</div>
<div class="chip d" style="left:3313.4px;top:796.1px">달서</div>
<div class="chip d" style="left:3450.1px;top:796.1px">세종</div>
<div class="chip" style="left:3040.0px;top:857.0px">중동</div>
<div class="chip" style="left:3176.7px;top:857.0px">단원</div>
<div class="chip d" style="left:3313.4px;top:857.0px">강동</div>
<div class="chip d" style="left:3450.1px;top:857.0px">평택</div>
<div class="chip" style="left:3040.0px;top:918.0px">광교</div>
<div class="chip" style="left:3176.7px;top:918.0px">수지</div>
<div class="chip" style="left:3313.4px;top:918.0px">평촌</div>
<div class="chip" style="left:3450.1px;top:918.0px">일산</div>
<div class="chip" style="left:3040.0px;top:978.9px">노원</div>
<div class="chip" style="left:3176.7px;top:978.9px">은평</div>
<div class="chip" style="left:3313.4px;top:978.9px">분당</div>
<div class="chip" style="left:3450.1px;top:978.9px">판교</div>
<div class="chip" style="left:3040.0px;top:1039.8px">관악</div>
<div class="chip" style="left:3176.7px;top:1039.8px">용산</div>
<div class="chip" style="left:3313.4px;top:1039.8px">광진</div>
<div class="chip" style="left:3450.1px;top:1039.8px">동대문</div>
<div class="chip" style="left:3040.0px;top:1100.8px">마포</div>
<div class="chip" style="left:3176.7px;top:1100.8px">영등포</div>
<div class="chip" style="left:3313.4px;top:1100.8px">강서</div>
<div class="chip" style="left:3450.1px;top:1100.8px">구로</div>
<div class="chip" style="left:3040.0px;top:1161.8px">강남</div>
<div class="chip" style="left:3176.7px;top:1161.8px">서초</div>
<div class="chip" style="left:3313.4px;top:1161.8px">송파</div>
<div class="chip" style="left:3450.1px;top:1161.8px">성동</div>

<!-- panel 2 -->
<div class="panel" style="left:1592px;top:1442px;width:1029px;height:607px"></div>
<div class="ptitle" style="left:1831px;top:1389px;width:572px">당일 배송 커버리지</div>
<div class="t c lab" style="left:1853px;top:1580px">[기존]</div>
<div class="t c lab" style="left:2360px;top:1580px">[2026]</div>
<svg class="abs" style="left:1592px;top:1442px" width="1029" height="607" viewBox="1592 1442 1029 607">
<path d="M1853.0,1629.0A164,164 0 1 1 1720.3,1889.4L1800.0,1831.5A65.5,65.5 0 1 0 1853.0,1727.5Z" fill="#32445A"/><path d="M1720.3,1889.4A164,164 0 0 1 1853.0,1629.0L1853.0,1727.5A65.5,65.5 0 0 0 1800.0,1831.5Z" fill="#b5b5b5"/>
<path d="M2359.5,1629.0A164,164 0 1 1 2226.8,1696.6L2306.5,1754.5A65.5,65.5 0 1 0 2359.5,1727.5Z" fill="#32445A"/><path d="M2226.8,1696.6A164,164 0 0 1 2359.5,1629.0L2359.5,1727.5A65.5,65.5 0 0 0 2306.5,1754.5Z" fill="#b5b5b5"/>
<path d="M2036,1784.5 H2160" stroke="#b5b5b5" stroke-width="4" stroke-dasharray="5 4" fill="none"/>
<path d="M2160,1773 L2184,1784.5 L2160,1796 Z" fill="#b5b5b5"/>
<path d="M1655,1985.5 H1794 L1817,1953" stroke="#b0b0b0" stroke-width="1.8" stroke-dasharray="2 2.2" fill="none"/>
<path d="M2399,1953 L2422,1985.5 H2561" stroke="#b0b0b0" stroke-width="1.8" stroke-dasharray="2 2.2" fill="none"/>
</svg>
<div class="abs" style="left:1989px;top:1808px;width:234px;height:83px;border-radius:9px;background:#55E3B5"></div>
<div class="t c" style="left:2107px;top:1850px;font-size:42px;letter-spacing:-2px;color:#222"><b style="font-weight:700;font-size:44px;letter-spacing:0;-webkit-text-stroke:1px #222">20%</b> 증가</div>
<div class="t c" style="left:1717px;top:1948px;font-size:41px;letter-spacing:-1px;-webkit-text-stroke:.6px #222;color:#222">65%</div>
<div class="t c" style="left:2499px;top:1944px;font-size:52px;font-weight:700;letter-spacing:-1px;-webkit-text-stroke:.8px #222;color:#222">85%</div>

<!-- panel 3 -->
<div class="panel" style="left:2676px;top:1438px;width:1029px;height:611px"></div>
<div class="ptitle" style="left:2903px;top:1389px;width:572px">배송 리드 타임</div>
<div class="t c lab" style="left:2936px;top:1580px">[기존]</div>
<div class="t c lab" style="left:3443px;top:1580px">[2026]</div>
<div class="base" style="left:2797px;top:1987px;width:798px"></div>
<svg class="abs" style="left:2676px;top:1438px" width="1029" height="611" viewBox="2676 1438 1029 611">
<path d="M3041,1646 L3337,1808 V1988 H3041 Z" fill="#d0f7ee"/>
<rect x="2830" y="1646" width="211" height="342" fill="#9c9c9c"/>
<rect x="3337" y="1808" width="211" height="180" fill="#32445A"/>
</svg>
<div class="t c" style="left:2936px;top:1725px;font-size:43px;line-height:58px;text-align:center;color:#fff;letter-spacing:-1.5px">평균<br>24시간</div>
<div class="t c" style="left:3443px;top:1881px;font-size:43px;line-height:58px;text-align:center;color:#fff;font-weight:700;letter-spacing:-1.5px">평균<br>6시간</div>

</body>
</html>
